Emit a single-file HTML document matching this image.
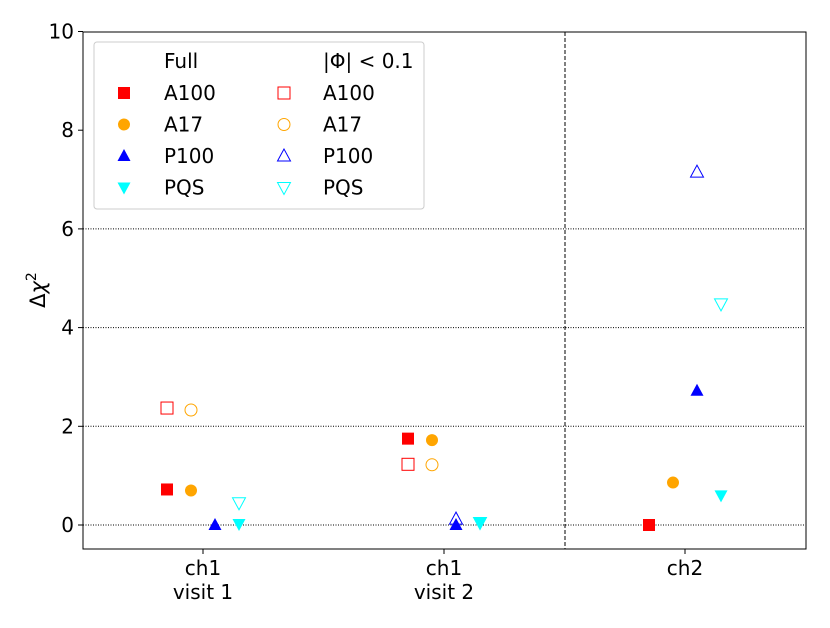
<!DOCTYPE html>
<html><head><meta charset="utf-8"><style>
body{margin:0;background:#fff}
svg text{font-family:"DejaVu Sans","Liberation Sans",sans-serif;fill:#000}
</style></head><body>
<svg id="chart" width="830" height="623" xmlns="http://www.w3.org/2000/svg"></svg>
<script>
const categories=["ch1\nvisit 1","ch1\nvisit 2","ch2"];
const series=["A100","A17","P100","PQS"];
const fullValues={A100:[0.72,1.75,0.0],A17:[0.70,1.72,0.86],P100:[0.0,0.0,2.72],PQS:[0.02,0.05,0.6]};
const cutValues={A100:[2.37,1.23,null],A17:[2.33,1.22,null],P100:[null,0.12,7.15],PQS:[0.45,0.05,4.48]};
const yTicks=[0,2,4,6,8,10];
const colors={A100:"#ff0000",A17:"#ffa500",P100:"#0000ff",PQS:"#00ffff"};
const shapes={A100:"s",A17:"o",P100:"^",PQS:"v"};

const svg=document.getElementById('chart');
const NS="http://www.w3.org/2000/svg";
const L=83,R=806,T=32,B=549;
const FS=20;
const y=v=>525-v*(525-31.5)/10;
const xCat=i=>203+i*241;
const offs=[-36,-12,12,36];
function mk(tag,attrs,parent){const e=document.createElementNS(NS,tag);for(const k in attrs)e.setAttribute(k,attrs[k]);(parent||svg).appendChild(e);return e;}
function marker(sh,cx,cy,color,filled,name){
  let e;const fill=filled?color:"none",st=filled?"none":color;
  if(sh==="s")e=mk('rect',{x:cx-6,y:cy-6,width:12,height:12,fill:fill,stroke:st,"stroke-width":1});
  else if(sh==="o")e=mk('circle',{cx:cx,cy:cy,r:6,fill:fill,stroke:st,"stroke-width":1});
  else if(sh==="^")e=mk('polygon',{points:`${cx},${cy-7} ${cx-6.5},${cy+5} ${cx+6.5},${cy+5}`,fill:fill,stroke:st,"stroke-width":1});
  else e=mk('polygon',{points:`${cx},${cy+7} ${cx-6.5},${cy-5} ${cx+6.5},${cy-5}`,fill:fill,stroke:st,"stroke-width":1});
  
  
  return e;
}
yTicks.slice(0,4).forEach(t=>{const g=mk('line',{x1:L,x2:R,y1:y(t),y2:y(t),stroke:"#000","stroke-width":1,"stroke-dasharray":"1,1.5"});

});
const dv=mk('line',{x1:565,x2:565,y1:T,y2:B,stroke:"#000","stroke-width":1,"stroke-dasharray":"4,2"});


const fr=mk('rect',{x:L,y:T,width:R-L,height:B-T,fill:"none",stroke:"#000","stroke-width":1});


yTicks.forEach(t=>{mk('line',{x1:L-5,x2:L,y1:y(t),y2:y(t),stroke:"#000"});
const tx=mk('text',{x:L-9,y:y(t)+7,"text-anchor":"end","font-size":FS});tx.textContent=t;

});
categories.forEach((c,i)=>{mk('line',{x1:xCat(i),x2:xCat(i),y1:B,y2:B+5,stroke:"#000"});
c.split("\n").forEach((ln,j)=>{const tx=mk('text',{x:xCat(i),y:B+26+j*24,"text-anchor":"middle","font-size":FS});tx.textContent=ln;

});});
const yt=mk('text',{x:0,y:0,"font-size":21,transform:"translate(45,290) rotate(-90)","text-anchor":"middle"});
yt.innerHTML='Δ<tspan font-style="italic">χ</tspan><tspan dy="-9" font-size="14">2</tspan>';


series.forEach((s,k)=>{categories.forEach((c,i)=>{
 const cx=xCat(i)+offs[k];
 if(cutValues[s][i]!=null)marker(shapes[s],cx,y(cutValues[s][i]),colors[s],false,'point-cut-'+s.toLowerCase());
 if(fullValues[s][i]!=null)marker(shapes[s],cx,y(fullValues[s][i]),colors[s],true,'point-full-'+s.toLowerCase());
});});
const lg=mk('g',{});


mk('rect',{x:94,y:42,width:330,height:167,rx:3,fill:"#fff",stroke:"#ccc","stroke-width":1},lg);
const h1=mk('text',{x:164,y:68,"font-size":FS},lg);h1.textContent="Full";
const h2=mk('text',{x:323,y:68,"font-size":FS},lg);h2.textContent="|Φ| < 0.1";
series.forEach((s,k)=>{const yy=93+k*31.5;
 const m1=marker(shapes[s],124,yy,colors[s],true,'legend-marker-full');lg.appendChild(m1);
 const t1=mk('text',{x:164,y:yy+7,"font-size":FS},lg);t1.textContent=s;
 
 
 const m2=marker(shapes[s],284,yy,colors[s],false,'legend-marker-cut');lg.appendChild(m2);
 const t2=mk('text',{x:323,y:yy+7,"font-size":FS},lg);t2.textContent=s;
 
 
});
</script>
</body></html>
